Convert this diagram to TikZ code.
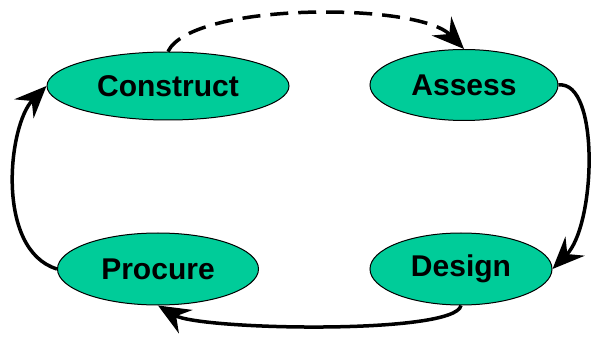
\documentclass[tikz,border=0pt]{standalone}
\usepackage{fontspec}
\setmainfont{Liberation Sans}
\usetikzlibrary{shapes.geometric, arrows.meta}
\definecolor{stagegreen}{RGB}{0,204,153}

\begin{document}
\begin{tikzpicture}[x=1pt,y=1pt]
  % Styles
  \tikzset{
    stage/.style={
      ellipse, draw=black, line width=1pt, fill=stagegreen,
      inner sep=0pt,
      font=\bfseries\fontsize{30}{36}\selectfont
    },
    flow/.style={
      line width=3.5pt,
      -{Stealth[length=32pt,width=27pt,inset=11pt]}
    }
  }

  \useasboundingbox (0,0) rectangle (592,-339);

  % the four stages
  \node[stage, minimum width=242pt, minimum height=68pt] (construct) at (168,-86) {Construct};
  \node[stage, minimum width=188pt, minimum height=71pt] (assess) at (464,-85) {Assess};
  \node[stage, minimum width=182pt, minimum height=72pt] (design) at (461,-269) {Design};
  \node[stage, minimum width=201pt, minimum height=72pt] (procure) at (158,-269) {Procure};

  % the cycle
  \draw[flow, dash pattern=on 18pt off 10pt]
    (construct.north) .. controls (192,-2) and (418,-2) .. (assess.north);
  \draw[flow]
    (assess.east) .. controls (600,-80) and (596,-225) .. (design.east);
  \draw[flow]
    (design.south) .. controls (455,-335) and (200,-330) .. (procure.south);
  \draw[flow]
    (procure.west) .. controls (-5,-250) and (8,-125) .. (construct.west);
\end{tikzpicture}
\end{document}
